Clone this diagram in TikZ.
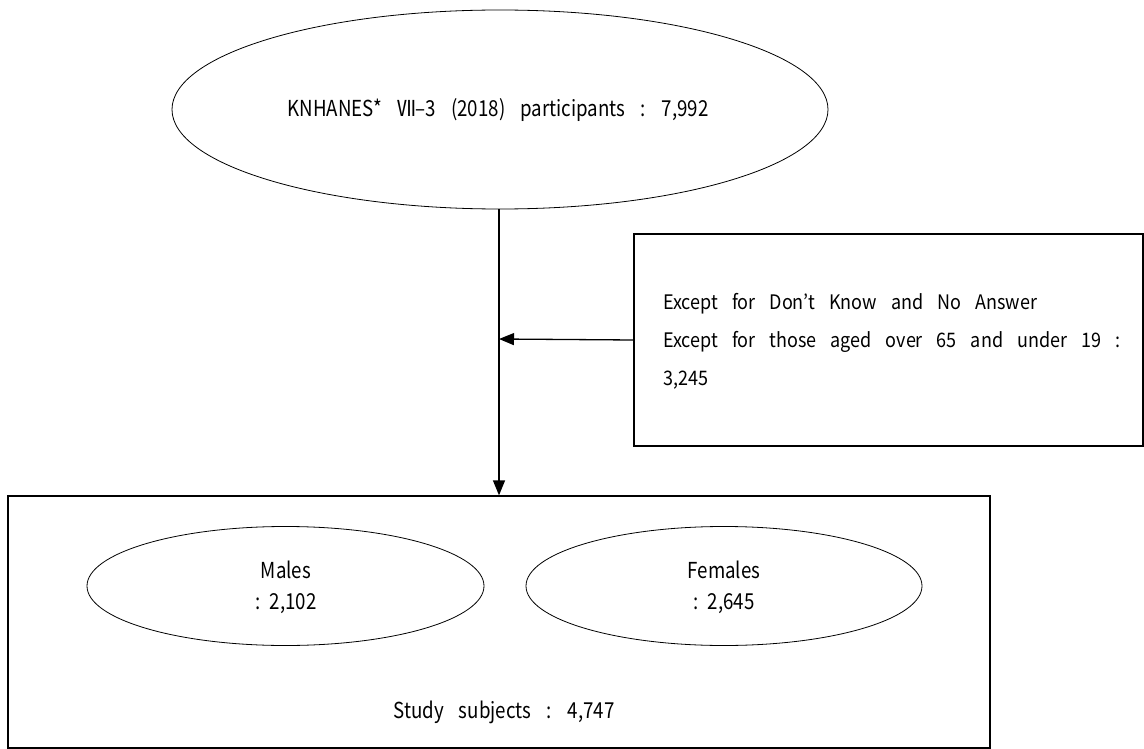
\documentclass[tikz,border=0pt]{standalone}
\usepackage{fontspec}
\setmainfont{Noto Sans CJK KR}
\newfontfamily\condf{Noto Sans CJK KR}[FakeStretch=0.85]
\newfontfamily\boxf{Noto Sans CJK KR}[FakeStretch=0.9]
\usetikzlibrary{shapes.geometric,arrows.meta}
\newcommand{\bigsp}{\spaceskip=15pt plus 0pt minus 0pt\relax}
\newcommand{\boxsp}{\spaceskip=14pt plus 0pt minus 0pt\relax}
\newcommand{\midsp}{\spaceskip=8pt plus 0pt minus 0pt\relax}
\tikzset{
  lbl/.style={font={\condf\fontsize{22}{26}\selectfont\bigsp}, inner sep=0pt},
  oval/.style={draw, ellipse, line width=0.8pt, inner sep=0pt},
  frame/.style={draw, rectangle, line width=1.3pt, inner sep=0pt},
  flow/.style={line width=1.3pt, -{Triangle[length=15pt,width=12pt]}}
}
\begin{document}
\begin{tikzpicture}[x=1pt,y=-1pt]
\useasboundingbox (0,0) rectangle (1144,749);
% top ellipse
\node[oval, minimum width=656pt, minimum height=199pt] (top) at (500,109.5) {};
\node[lbl] (toptext) at (498,110) {KNHANES* Ⅶ–3 (2018) participants : 7,992};
% exclusion box
\node[frame, minimum width=509pt, minimum height=212pt] (excl) at (888.5,340) {};
\node[lbl, anchor=west, align=left, font={\boxf\fontsize{20}{38}\selectfont\boxsp}] (excltext) at (663,341)
  {Except for Don’t Know and No Answer\\
   Except for those aged over 65 and under 19 :\\
   3,245};
% bottom box
\node[frame, minimum width=982pt, minimum height=252pt] (study) at (499,622) {};
\node[oval, minimum width=397pt, minimum height=119pt] (males) at (285.5,586) {};
\node[lbl, align=center, font={\condf\fontsize{22}{31}\selectfont\midsp}] (malestext) at (286,587) {Males\\: 2,102};
\node[oval, minimum width=396pt, minimum height=119pt] (females) at (724,586) {};
\node[lbl, align=center, font={\condf\fontsize{22}{31}\selectfont\midsp}] (femalestext) at (724,587) {Females\\: 2,645};
\node[lbl] (studytext) at (504,712) {Study subjects : 4,747};
% connectors
\coordinate (join) at (499,339);
\draw[flow] (top.south -| join) -- (join |- study.north);
\draw[flow] (excl.west) -- (join);
\end{tikzpicture}
\end{document}
